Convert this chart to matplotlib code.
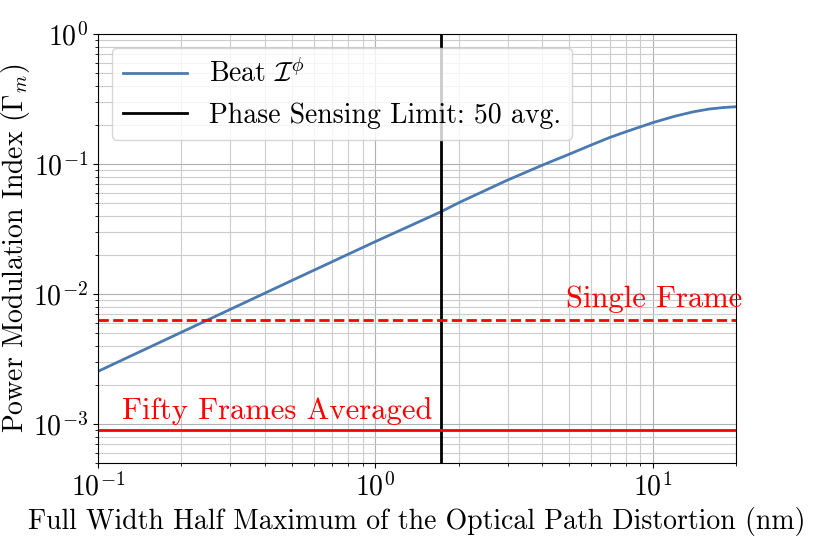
import matplotlib
matplotlib.use("Agg")
import matplotlib.pyplot as plt
import numpy as np

# values
fwhm = [0.1, 0.2, 0.5, 1.0, 1.72, 2.0, 3.0, 4.0, 5.0, 6.0, 7.0, 8.0, 10.0, 12.0, 14.0, 16.0, 18.0, 20.0]
beat = [0.00254, 0.00508, 0.0127, 0.0253, 0.0428, 0.0504, 0.0753, 0.098, 0.119, 0.140,
        0.160, 0.177, 0.208, 0.233, 0.252, 0.265, 0.272, 0.276]
single_frame = 6.34e-3
fifty_frames = 9.0e-4
phase_limit = 1.72

plt.rcParams['font.family'] = 'cmr10'
plt.rcParams['mathtext.fontset'] = 'cm'
plt.rcParams['axes.formatter.use_mathtext'] = True
plt.rcParams['font.size'] = 20

fig = plt.figure(figsize=(8.3, 5.54), dpi=100)
ax = fig.add_axes([0.118, 0.164, 0.769, 0.7746])

ax.plot(fwhm, beat, color='#4a7ab0', lw=2, label=r'Beat $\mathcal{I}^\phi$')
ax.axvline(phase_limit, color='black', lw=2, label='Phase Sensing Limit: 50 avg.')
ax.axhline(single_frame, color='red', lw=2, ls='--')
ax.axhline(fifty_frames, color='red', lw=2)

ax.text(4.85, 8.0e-3, 'Single Frame', color='red', fontsize=22, va='baseline')
ax.text(0.122, 1.1e-3, 'Fifty Frames Averaged', color='red', fontsize=22, va='baseline')

ax.set_xscale('log')
ax.set_yscale('log')
ax.set_xlim(0.1, 20)
ax.set_ylim(5e-4, 1)
ax.grid(True, which='major', color='#b0b0b0', lw=0.8)
ax.grid(True, which='minor', color='#cccccc', lw=0.8)

ax.set_xlabel('Full Width Half Maximum of the Optical Path Distortion (nm)')
ax.set_ylabel(r'Power Modulation Index ($\Gamma_m$)', labelpad=1)
ax.legend(loc='upper left', fontsize=20, handlelength=2.3)

fig.savefig('out.png', dpi=100)
